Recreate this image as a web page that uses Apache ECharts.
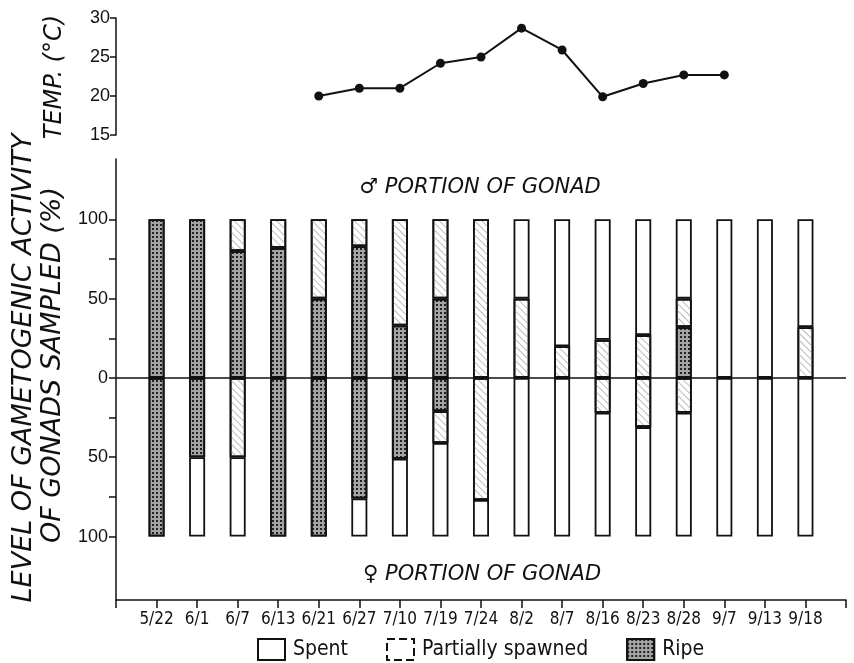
<!DOCTYPE html>
<html><head><meta charset="utf-8">
<script src="https://cdn.jsdelivr.net/npm/echarts@6/dist/echarts.min.js"></script>
<style>html,body{margin:0;padding:0;background:#fff}#c{width:854px;height:663px}</style>
</head><body><div id="c"></div>
<script>
const categories = ['5/22','6/1','6/7','6/13','6/21','6/27','7/10','7/19','7/24','8/2','8/7','8/16','8/23','8/28','9/7','9/13','9/18'];
const tempC = [null,null,null,null,20.0,21.0,21.0,24.2,25.0,28.7,25.9,19.9,21.6,22.7,22.7,null,null];
const maleRipe      = [100,100,80,82,50,83,33,50,0,0,0,0,0,32,0,0,0];
const malePartial   = [0,0,20,18,50,17,67,50,100,50,20,24,27,18,0,0,32];
const maleSpent     = [0,0,0,0,0,0,0,0,0,50,80,76,73,50,100,100,68];
const femaleRipe    = [100,50,0,100,100,76,51,21,0,0,0,0,0,0,0,0,0];
const femalePartial = [0,0,50,0,0,0,0,20,77,0,0,22,31,22,0,0,0];
const femaleSpent   = [0,50,50,0,0,24,49,59,23,100,100,78,69,78,100,100,100];
const pctTicks  = [-100,-75,-50,-25,0,25,50,75,100];
const pctLabels = [-100,-50,0,50,100];
const legendNames = ['Spent','Partially spawned','Ripe'];

// axis slots: an empty slot at each end so the axis runs past the first/last date
const axisData = [''].concat(categories, ['']);
function padded(arr){ return ['-'].concat(arr, ['-']); }

const INK = '#111';
const ripeStyle = {color:'#a4a4a4', borderColor:INK, borderWidth:1.8,
  decal:{symbol:'rect', symbolSize:1, dashArrayX:[1.5,1.5], dashArrayY:[1.5,1.5], color:'rgba(20,20,20,0.9)'}};
const partialStyle = {color:'#fff', borderColor:INK, borderWidth:1.8,
  decal:{symbol:'rect', symbolSize:1, dashArrayX:[1,0], dashArrayY:[1,4], rotation:Math.PI/4, color:'#bcbcbc'}};
const spentStyle = {color:'#fff', borderColor:INK, borderWidth:1.8};

function barSeries(name, arr, sign, style){
  return {type:'bar', name:name, xAxisIndex:1, yAxisIndex:1, stack:'g', barWidth:16,
    itemStyle:style, animation:false,
    data: padded(arr.map(v => v ? sign*v : '-'))};
}
const series = [
  barSeries(legendNames[2], maleRipe, 1, ripeStyle),
  barSeries(legendNames[1], malePartial, 1, partialStyle),
  barSeries(legendNames[0], maleSpent, 1, spentStyle),
  barSeries(legendNames[2], femaleRipe, -1, ripeStyle),
  barSeries(legendNames[1], femalePartial, -1, partialStyle),
  barSeries(legendNames[0], femaleSpent, -1, spentStyle),
];
series[0].markLine = {silent:true, symbol:'none', animation:false, label:{show:false},
  lineStyle:{color:INK, width:1.5, type:'solid'}, data:[{yAxis:0}]};
series.push({type:'line', name:'temp', xAxisIndex:0, yAxisIndex:0, symbol:'circle', symbolSize:9,
  lineStyle:{color:INK, width:2}, itemStyle:{color:INK}, animation:false,
  data: padded(tempC.map(v => v==null ? '-' : v))});

const tickFont = '"Liberation Sans", Arial, sans-serif';
const condFont = '"DejaVu Sans Condensed","Liberation Sans Narrow","Roboto Condensed","Liberation Sans",sans-serif';
const titleFont = '"DejaVu Sans", Verdana, sans-serif';

const option = {
  backgroundColor:'#fff',
  animation:false,
  grid:[
    {left:116, right:8, top:18, height:117},
    {left:116, right:8, top:159, height:441}
  ],
  xAxis:[
    {type:'category', gridIndex:0, data:axisData, boundaryGap:false, show:false},
    {type:'category', gridIndex:1, data:axisData, boundaryGap:false,
      axisLine:{show:true, onZero:false, lineStyle:{color:INK, width:1.5}},
      axisTick:{show:true, interval:0, length:8, lineStyle:{color:INK, width:1.5}},
      axisLabel:{color:INK, fontSize:17, fontFamily:condFont, margin:11, interval:0},
      splitLine:{show:false}}
  ],
  yAxis:[
    {type:'value', gridIndex:0, min:15, max:30, interval:5,
      axisLine:{show:true, onZero:false, lineStyle:{color:INK, width:1.5}},
      axisTick:{show:true, length:6, lineStyle:{color:INK, width:1.5}},
      axisLabel:{color:INK, fontSize:18, fontFamily:tickFont, margin:6},
      splitLine:{show:false}},
    {type:'value', gridIndex:1, min:-140, max:138,
      axisLine:{show:true, onZero:false, lineStyle:{color:INK, width:1.5}},
      axisTick:{show:true, length:7, customValues:pctTicks, lineStyle:{color:INK, width:1.5}},
      axisLabel:{color:INK, fontSize:18, fontFamily:tickFont, margin:8, customValues:pctLabels,
        formatter:(v)=> String(Math.abs(v))},
      splitLine:{show:false}}
  ],
  legend:{
    top:633, left:252, icon:'rect', itemWidth:27, itemHeight:21, itemGap:38,
    selectedMode:false,
    textStyle:{color:INK, fontSize:21, fontFamily:condFont, padding:[0,0,0,3]},
    data:[{name:legendNames[0]}, {name:legendNames[1], itemStyle:{borderType:'dashed', decal:'none'}}, {name:legendNames[2]}]
  },
  graphic:[
    {type:'text', x:24, y:368, rotation:Math.PI/2, silent:true,
      style:{text:'LEVEL OF GAMETOGENIC ACTIVITY', font:'italic 27px '+titleFont, fill:INK, align:'center', verticalAlign:'middle'}},
    {type:'text', x:53, y:365, rotation:Math.PI/2, silent:true,
      style:{text:'OF GONADS SAMPLED (%)', font:'italic 27px '+titleFont, fill:INK, align:'center', verticalAlign:'middle'}},
    {type:'text', x:55, y:77, rotation:Math.PI/2, silent:true,
      style:{text:'TEMP. (°C)', font:'italic 24px '+titleFont, fill:INK, align:'center', verticalAlign:'middle'}},
    {type:'text', x:480, y:188, silent:true,
      style:{text:'♂ PORTION OF GONAD', font:'italic 21px '+titleFont, fill:INK, align:'center', verticalAlign:'middle'}},
    {type:'text', x:482, y:575, silent:true,
      style:{text:'♀ PORTION OF GONAD', font:'italic 21px '+titleFont, fill:INK, align:'center', verticalAlign:'middle'}}
  ],
  series: series
};
const chart = echarts.init(document.getElementById('c'), null, {renderer:'canvas'});
chart.setOption(option);
</script></body></html>
